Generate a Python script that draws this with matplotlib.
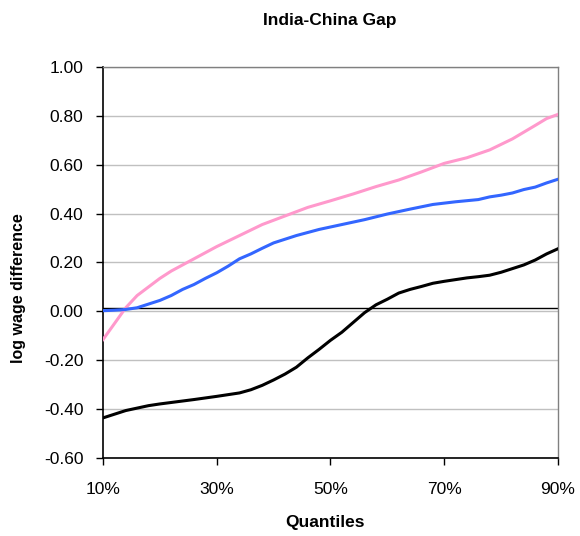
import matplotlib
matplotlib.use("Agg")
import matplotlib.pyplot as plt
from matplotlib.ticker import FuncFormatter, MultipleLocator

plt.rcParams['font.family'] = ['Liberation Sans', 'DejaVu Sans']

# Quantile positions (percent) and log wage differences per series
q_pink = [10, 12, 14, 16, 18, 20, 22, 24, 26, 28, 30, 34, 38, 42, 46, 50,
          54, 58, 62, 66, 70, 74, 78, 82, 86, 88, 90]
pink = [-0.115, -0.05, 0.015, 0.065, 0.10, 0.135, 0.165, 0.19, 0.215, 0.24,
        0.265, 0.31, 0.355, 0.39, 0.425, 0.452, 0.48, 0.51, 0.537, 0.57,
        0.605, 0.628, 0.66, 0.705, 0.76, 0.788, 0.805]

q_blue = [10, 12, 14, 16, 18, 20, 22, 24, 26, 28, 30, 32, 34, 36, 38, 40,
          44, 48, 52, 56, 60, 64, 68, 72, 76, 78, 80, 82, 84, 86, 88, 90]
blue = [0.003, 0.005, 0.008, 0.015, 0.03, 0.045, 0.065, 0.09, 0.11, 0.135,
        0.158, 0.185, 0.215, 0.235, 0.258, 0.28, 0.31, 0.335, 0.355, 0.375,
        0.398, 0.418, 0.437, 0.448, 0.457, 0.468, 0.475, 0.484, 0.498, 0.508,
        0.525, 0.54]

q_black = [10, 12, 14, 16, 18, 20, 22, 26, 30, 34, 36, 38, 40, 42, 44, 46,
           48, 50, 52, 54, 56, 58, 60, 62, 64, 66, 68, 70, 72, 74, 76, 78,
           80, 82, 84, 86, 88, 90]
black = [-0.435, -0.42, -0.405, -0.395, -0.385, -0.378, -0.372, -0.36,
         -0.347, -0.333, -0.32, -0.302, -0.28, -0.256, -0.228, -0.19, -0.155,
         -0.118, -0.085, -0.045, -0.005, 0.027, 0.05, 0.075, 0.09, 0.102,
         0.115, 0.123, 0.13, 0.137, 0.142, 0.148, 0.16, 0.175, 0.19, 0.21,
         0.235, 0.256]

x_ticks = [10, 30, 50, 70, 90]

fig = plt.figure(figsize=(5.8, 5.36), dpi=100)
ax = fig.add_axes([0.1776, 0.145, 0.7844, 0.7306])

ax.set_xlim(10, 90)
ax.set_ylim(-0.6, 1.0)
ax.yaxis.set_major_locator(MultipleLocator(0.2))
ax.yaxis.set_major_formatter(FuncFormatter(lambda v, p: f"{v:.2f}"))
ax.set_xticks(x_ticks)
ax.set_xticklabels([f"{t}%" for t in x_ticks])

ax.grid(axis='y', color='#c0c0c0', linewidth=1.0, zorder=0)
ax.axhline(0.012, color='black', linewidth=1.0, zorder=1)

ax.plot(q_pink, pink, color='#ff99cc', linewidth=2.2, zorder=3)
ax.plot(q_blue, blue, color='#3366ff', linewidth=2.2, zorder=3)
ax.plot(q_black, black, color='black', linewidth=2.2, zorder=3)

for side in ('top', 'right'):
    ax.spines[side].set_color('#808080')
    ax.spines[side].set_linewidth(1.0)
for side in ('left', 'bottom'):
    ax.spines[side].set_color('black')
    ax.spines[side].set_linewidth(1.2)

ax.tick_params(axis='both', direction='out', length=5, width=1.0,
               labelsize=12.5, colors='black')
ax.tick_params(axis='y', pad=9)
ax.tick_params(axis='x', pad=12)

fig.text(330 / 580, 1 - 21 / 536, "India-China Gap", fontsize=12.5,
         fontweight='bold', ha='center', va='center')
fig.text(19 / 580, 1 - 288 / 536, "log wage difference", fontsize=11.5,
         fontweight='bold', rotation=90, ha='center', va='center')
fig.text(325 / 580, 1 - 523 / 536, "Quantiles", fontsize=12.5,
         fontweight='bold', ha='center', va='center')

fig.savefig("out.png", dpi=100, facecolor='white')
